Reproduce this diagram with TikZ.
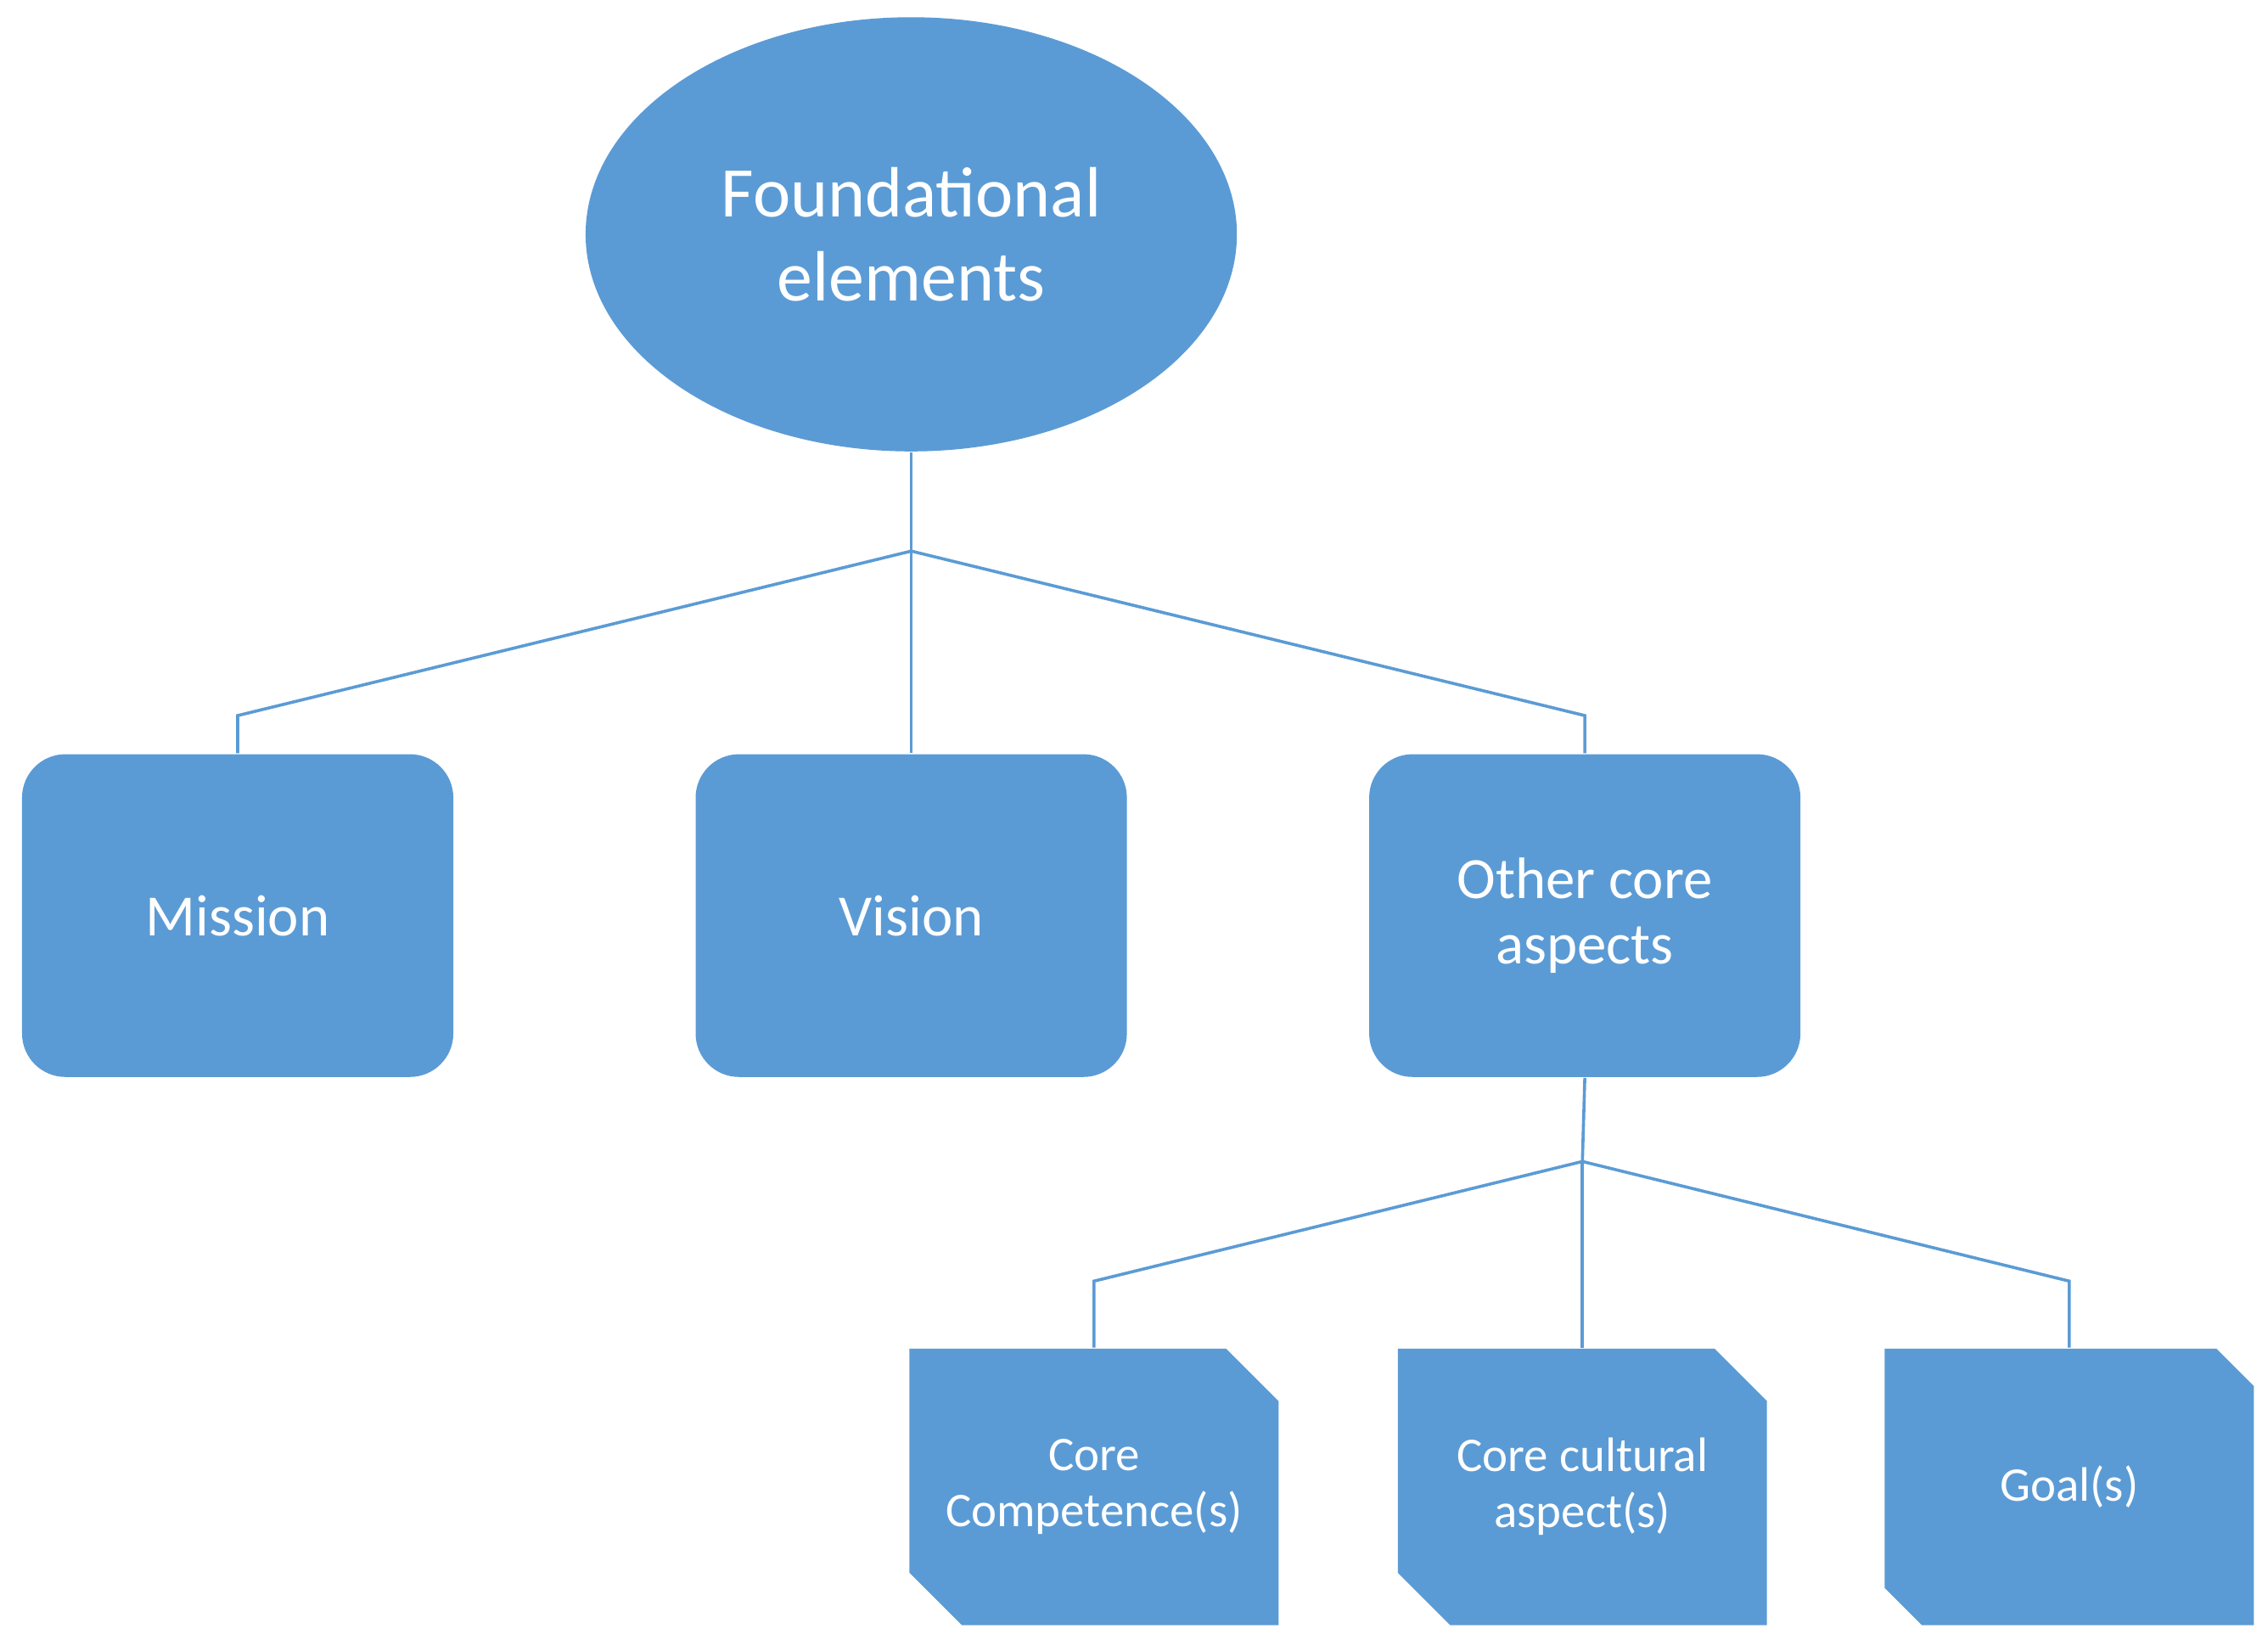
\documentclass[tikz,border=0pt]{standalone}
\usepackage{fontspec}
\setmainfont{Carlito}
\usetikzlibrary{shapes.geometric, shapes.misc, positioning}

\definecolor{boxblue}{HTML}{5B9BD5}
\definecolor{lineblue}{HTML}{5B9BD5}

\tikzset{
  top/.style    = {ellipse, fill=boxblue, text=white, minimum width=4.5cm, minimum height=3cm, align=center, font=\fontsize{14}{16.5}\selectfont},
  mid/.style    = {rectangle, rounded corners=0.3cm, fill=boxblue, text=white, minimum width=2.98cm, minimum height=2.23cm, align=center, font=\fontsize{11.5}{13}\selectfont},
  low/.style    = {chamfered rectangle, chamfered rectangle corners={north east, south west}, chamfered rectangle xsep=0.25cm, fill=boxblue, text=white, minimum width=2.55cm, minimum height=1.91cm, inner sep=0pt, align=center, font=\fontsize{9.5}{11}\selectfont},
  link/.style   = {draw=lineblue, line width=0.6pt}
}

\begin{document}
\begin{tikzpicture}[x=0.01cm, y=-0.01cm]
\useasboundingbox (0,0) rectangle (1568,1137);

\node[top]	(fe)	at (630,162)	{Foundational\\elements};

\node[mid]	(vis)	at (630,633)	{Vision};
\node[mid]	(mis)	[left=1.66cm of vis]	{Mission};
\node[mid]	(oca)	[right=1.66cm of vis]	{Other core\\aspects};

\node[low]	(ccu)	at (1094,1028)	{Core cultural\\aspect(s)};
\node[low]	(cco)	[left=0.81cm of ccu]	{Core\\Competence(s)};
\node[low]	(goa)	[right=0.80cm of ccu]	{Goal(s)};

% first level
\coordinate (j1) at (630,381);
\draw[link] (fe.south) -- (j1);
\draw[link] (j1) -- (vis.north);
\draw[link] (j1) -- ([yshift=0.26cm]mis.north) -- (mis.north);
\draw[link] (j1) -- ([yshift=0.26cm]oca.north) -- (oca.north);

% second level
\coordinate (j2) at (1094,803);
\draw[link] (oca.south) -- (j2);
\draw[link] (j2) -- (ccu.north);
\draw[link] (j2) -- ([yshift=0.46cm]cco.north) -- (cco.north);
\draw[link] (j2) -- ([yshift=0.46cm]goa.north) -- (goa.north);

\end{tikzpicture}
\end{document}
